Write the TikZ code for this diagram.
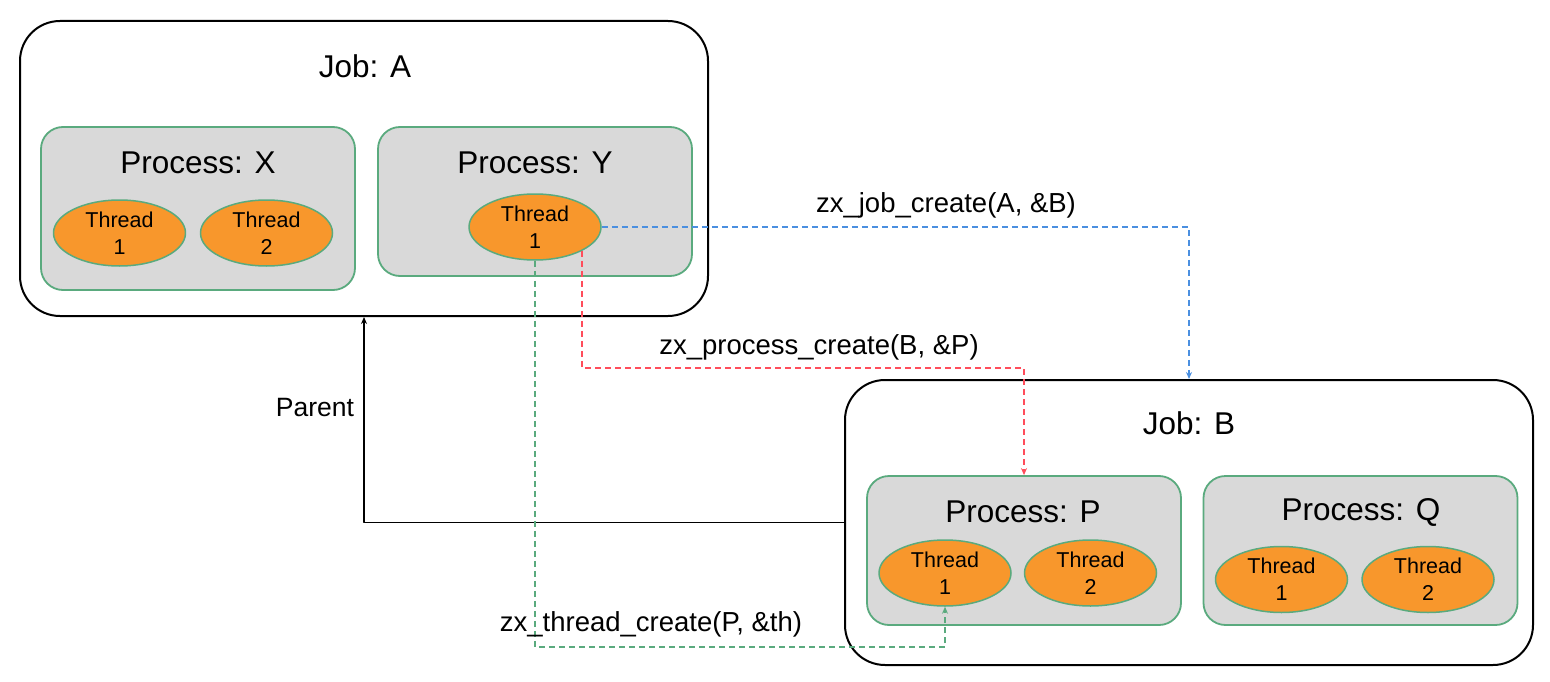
\documentclass[tikz,border=0pt]{standalone}
\usepackage{fontspec}
\setmainfont{Liberation Sans}
\usetikzlibrary{arrows.meta,shapes.geometric}

\definecolor{procfill}{HTML}{D9D9D9}
\definecolor{procline}{HTML}{5AAA7E}
\definecolor{thrfill}{HTML}{F8972C}
\definecolor{jobblue}{HTML}{4A8FE0}
\definecolor{procred}{HTML}{FF4D5B}

\begin{document}
\begin{tikzpicture}[
        x=1pt, y=-1pt, % pixel units, y down
        >={Stealth[length=7pt,width=6pt]}, % arrow head style
        line join=round]

        \tikzstyle{job}=[
            draw = black,
            fill = white,
            line width=2pt,
            rounded corners=40pt,
            minimum width=688pt
        ]
        \tikzstyle{process}=[
            draw = procline,
            fill = procfill,
            line width=1.8pt,
            rounded corners=22pt,
            minimum width=314pt,
            minimum height=149pt
        ]
        \tikzstyle{thread}=[
            ellipse,
            draw = procline,
            fill = thrfill,
            line width=1.5pt,
            minimum width=132pt,
            minimum height=66pt,
            inner sep=0pt,
            align=center,
            font=\fontsize{21.5}{27}\selectfont
        ]
        \tikzstyle{call}=[
            line width=1.5pt,
            dash pattern=on 6pt off 4pt
        ]
        \tikzset{big/.style={font=\fontsize{31.5}{36}\selectfont}}
        \tikzset{l/.style={font=\fontsize{27.5}{32}\selectfont}}

        \useasboundingbox (0,0) rectangle (1550,682);

        % job A
        \node[job, minimum height=295pt] (jobA) at (364,168.5) {};
        \node[big] (jobAl) at (365,66) {Job: A};
        \node[process, minimum height=163pt] (px) at (198,208.5) {};
        \node[big] (pxl) at (198,163) {Process: X};
        \node[thread] (x1) at (119.5,233) {Thread\\1};
        \node[thread] (x2) at (266.5,233) {Thread\\2};
        \node[process] (py) at (535,201.5) {};
        \node[big] (pyl) at (535,163) {Process: Y};
        \node[thread] (y1) at (535,227) {Thread\\1};

        % job B
        \node[job, minimum height=285pt] (jobB) at (1189,522.5) {};
        \node[big] (jobBl) at (1189,423) {Job: B};
        \node[process] (pp) at (1024,550.5) {};
        \node[big] (ppl) at (1023,512) {Process: P};
        \node[thread] (p1) at (945,573) {Thread\\1};
        \node[thread] (p2) at (1090.5,573) {Thread\\2};
        \node[process] (pq) at (1360.5,550.5) {};
        \node[big] (pql) at (1361,512) {Process: Q};
        \node[thread] (q1) at (1281.5,579.5) {Thread\\1};
        \node[thread] (q2) at (1428,579.5) {Thread\\2};

        \coordinate (redbend) at (0,368);
        \coordinate (greenbend) at (0,647);

        % calls
        \draw[->, line width=1.5pt] (jobB.west) -| (jobA.south);
        \draw[call, jobblue, ->] (y1.east) -| (jobB.north);
        \draw[call, procred, ->] (y1.south east) |- (redbend -| pp.north) -- (pp.north);
        \draw[call, procline, ->] (y1.south) |- (greenbend -| p1.south) -- (p1.south);

        \node[l, font=\fontsize{26.5}{32}\selectfont] (parent) at (315,408) {Parent};
        \node[l] (jobcall) at (946,205) {zx\_job\_create(A, \&B)};
        \node[l] (proccall) at (819,347) {zx\_process\_create(B, \&P)};
        \node[l] (thrcall) at (651,624) {zx\_thread\_create(P, \&th)};
    \end{tikzpicture}
\end{document}
